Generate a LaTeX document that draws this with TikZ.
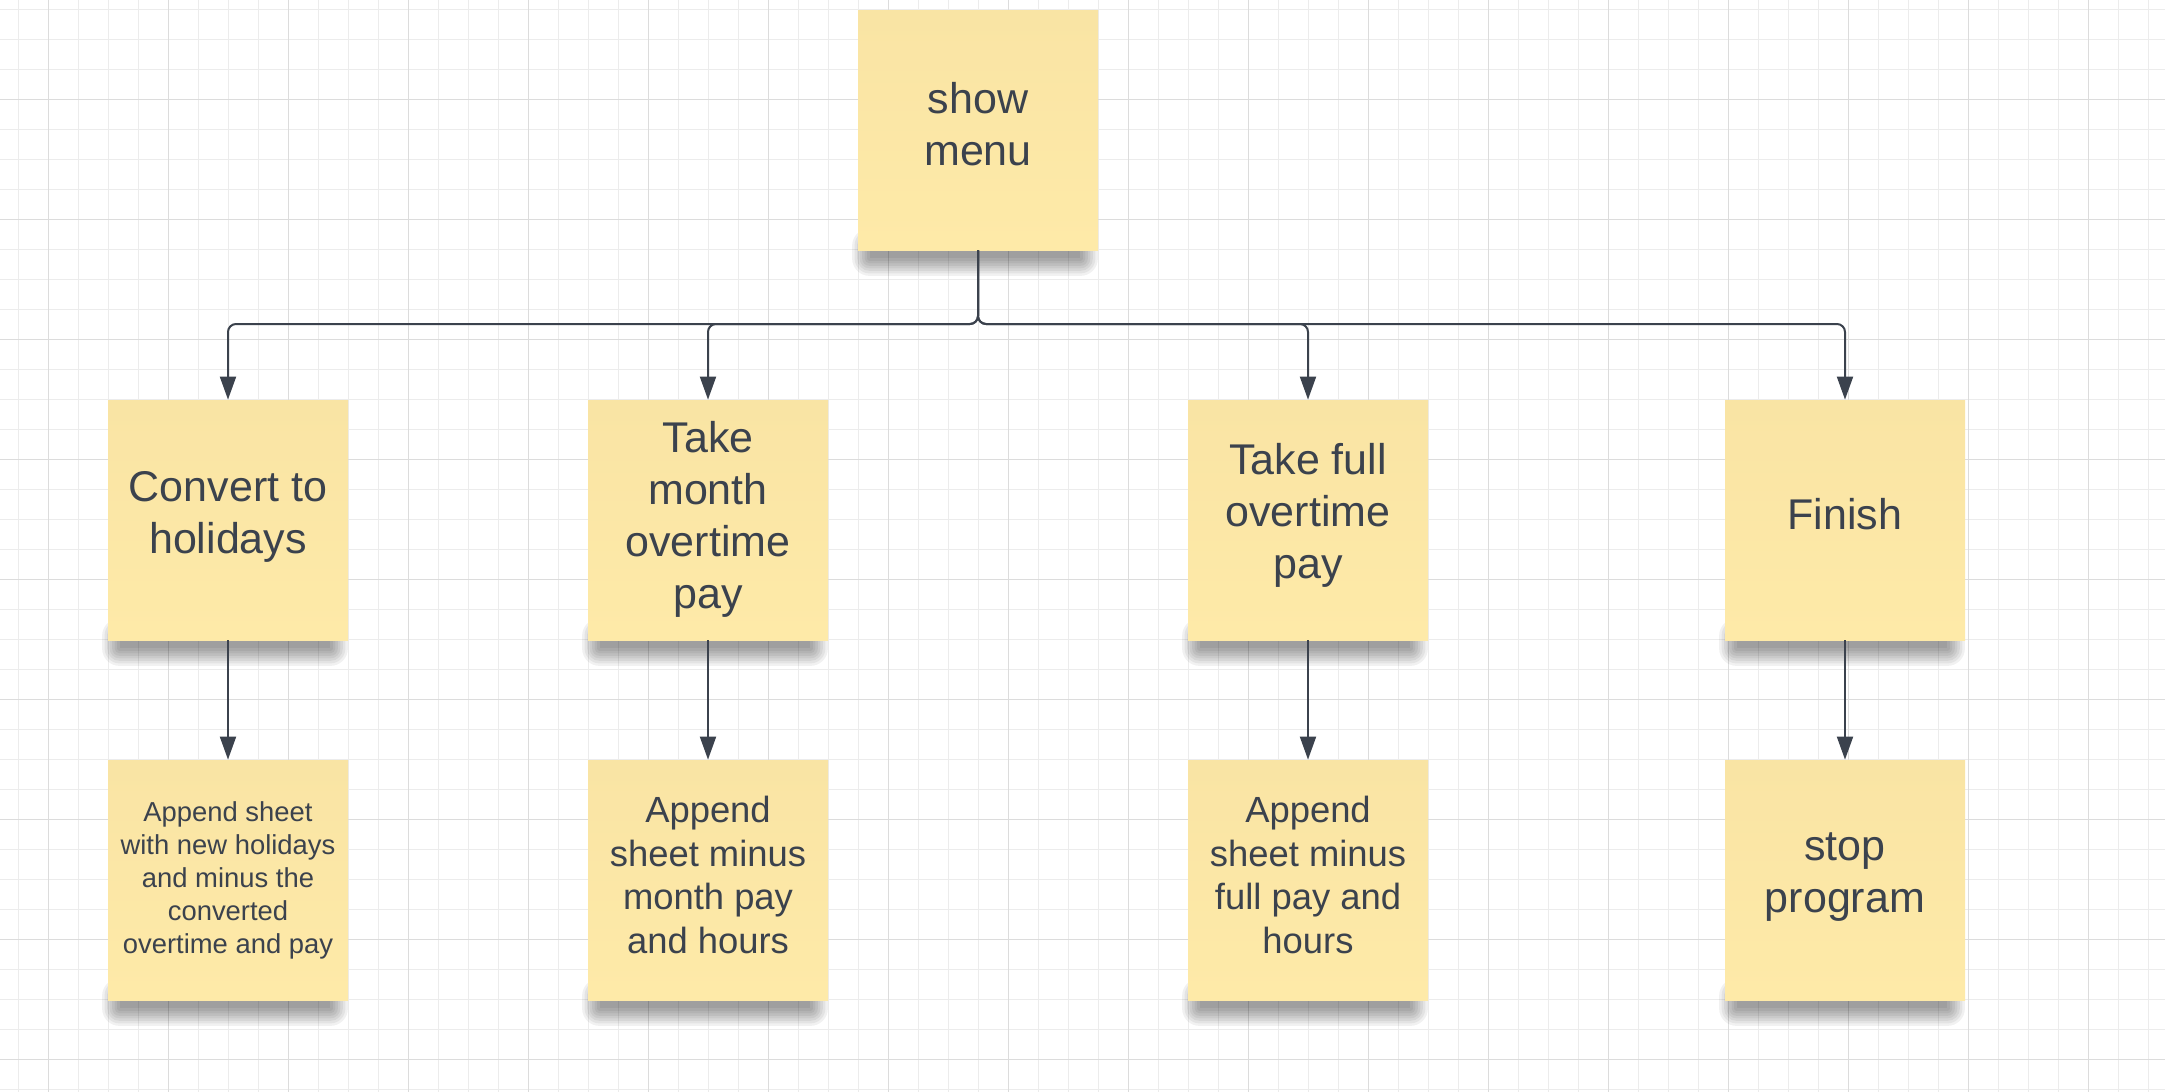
\documentclass[tikz,border=0pt]{standalone}
\usepackage{fontspec}
\setmainfont{Liberation Sans}
\usetikzlibrary{arrows.meta,calc}

\definecolor{inkgray}{RGB}{59,66,77}
\definecolor{notetop}{RGB}{249,228,164}
\definecolor{notebot}{RGB}{254,234,168}
\definecolor{gridminor}{RGB}{236,236,236}
\definecolor{gridmajor}{RGB}{220,220,220}

\pgfdeclarelayer{grid}
\pgfdeclarelayer{shade}
\pgfsetlayers{grid,shade,main}

\tikzset{
  note/.style={rectangle, minimum width=120pt, minimum height=120pt, inner sep=0pt,
    top color=notetop, bottom color=notebot},
  notetext/.style={align=center, text=inkgray, inner sep=0pt},
  bigtext/.style={notetext, font=\fontsize{21.5}{26}\selectfont},
  midtext/.style={notetext, font=\fontsize{18.2}{21.8}\selectfont},
  smalltext/.style={notetext, font=\fontsize{13.7}{16.5}\selectfont},
  link/.style={draw=inkgray, line width=1pt, rounded corners=4pt,
    -{Triangle[width=8pt,length=11.5pt]}},
}

\begin{document}
\begin{tikzpicture}[x=0.5pt,y=0.5pt,yscale=-1,xscale=1]
\useasboundingbox (0,0) rectangle (2165,1092);

%Background grid
\begin{pgfonlayer}{grid}
\fill[white] (0,0) rectangle (2165,1092);
\foreach \gx in {18.3,48.3,...,2165} \draw[gridminor, line width=0.5pt] (\gx,0) -- (\gx,1092);
\foreach \gy in {9.3,39.3,...,1092} \draw[gridminor, line width=0.5pt] (0,\gy) -- (2165,\gy);
\foreach \gx in {48.3,168.3,...,2165} \draw[gridmajor, line width=0.6pt] (\gx,0) -- (\gx,1092);
\foreach \gy in {99.3,219.3,...,1092} \draw[gridmajor, line width=0.6pt] (0,\gy) -- (2165,\gy);
\end{pgfonlayer}

%Sticky notes
\node[note] (menu) at (978,130) {};
\node[note] (conv) at (228,520) {};
\node[note] (month) at (708,520) {};
\node[note] (full) at (1308,520) {};
\node[note] (finish) at (1845,520) {};
\node[note] (apphol) at (228,880) {};
\node[note] (appmonth) at (708,880) {};
\node[note] (appfull) at (1308,880) {};
\node[note] (stop) at (1845,880) {};

%Soft shadows under the notes
\begin{pgfonlayer}{shade}
\foreach \n in {menu,conv,month,full,finish,apphol,appmonth,appfull,stop}
  \foreach \k in {0,...,7}
    \fill[black, opacity=0.055, rounded corners=1.25*\k pt]
      ($(\n.south west)+(12-2.5*\k,-8-2*\k)$) rectangle ($(\n.south east)+(-18+2.5*\k,8+2.5*\k)$);
\end{pgfonlayer}

% Text Node
\node[bigtext] (menu-txt) at ([yshift=-2.75pt]menu.center) {show\\menu};
\node[bigtext] (conv-txt) at ([yshift=-1.5pt]conv.center) {Convert to\\holidays};
\node[bigtext] (month-txt) at ([yshift=-0.5pt]month.center) {Take\\month\\overtime\\pay};
\node[bigtext] (full-txt) at ([yshift=-2.5pt]full.center) {Take full\\overtime\\pay};
\node[bigtext] (finish-txt) at ([yshift=-3pt]finish.center) {Finish};
\node[smalltext] (apphol-txt) at (apphol.center) {Append sheet\\with new holidays\\and minus the\\converted\\overtime and pay};
\node[midtext] (appmonth-txt) at ([yshift=-2.5pt]appmonth.center) {Append\\sheet minus\\month pay\\and hours};
\node[midtext] (appfull-txt) at ([yshift=-2.5pt]appfull.center) {Append\\sheet minus\\full pay and\\hours};
\node[bigtext] (stop-txt) at ([yshift=-1.5pt]stop.center) {stop\\program};

%Connectors from the menu
\coordinate (bus) at (978,324);
\draw[link] (menu.south) -- (bus) -| (conv.north);
\draw[link] (menu.south) -- (bus) -| (month.north);
\draw[link] (menu.south) -- (bus) -| (full.north);
\draw[link] (menu.south) -- (bus) -| (finish.north);

%Connectors to the results
\draw[link] (conv) -- (apphol);
\draw[link] (month) -- (appmonth);
\draw[link] (full) -- (appfull);
\draw[link] (finish) -- (stop);

\end{tikzpicture}
\end{document}
